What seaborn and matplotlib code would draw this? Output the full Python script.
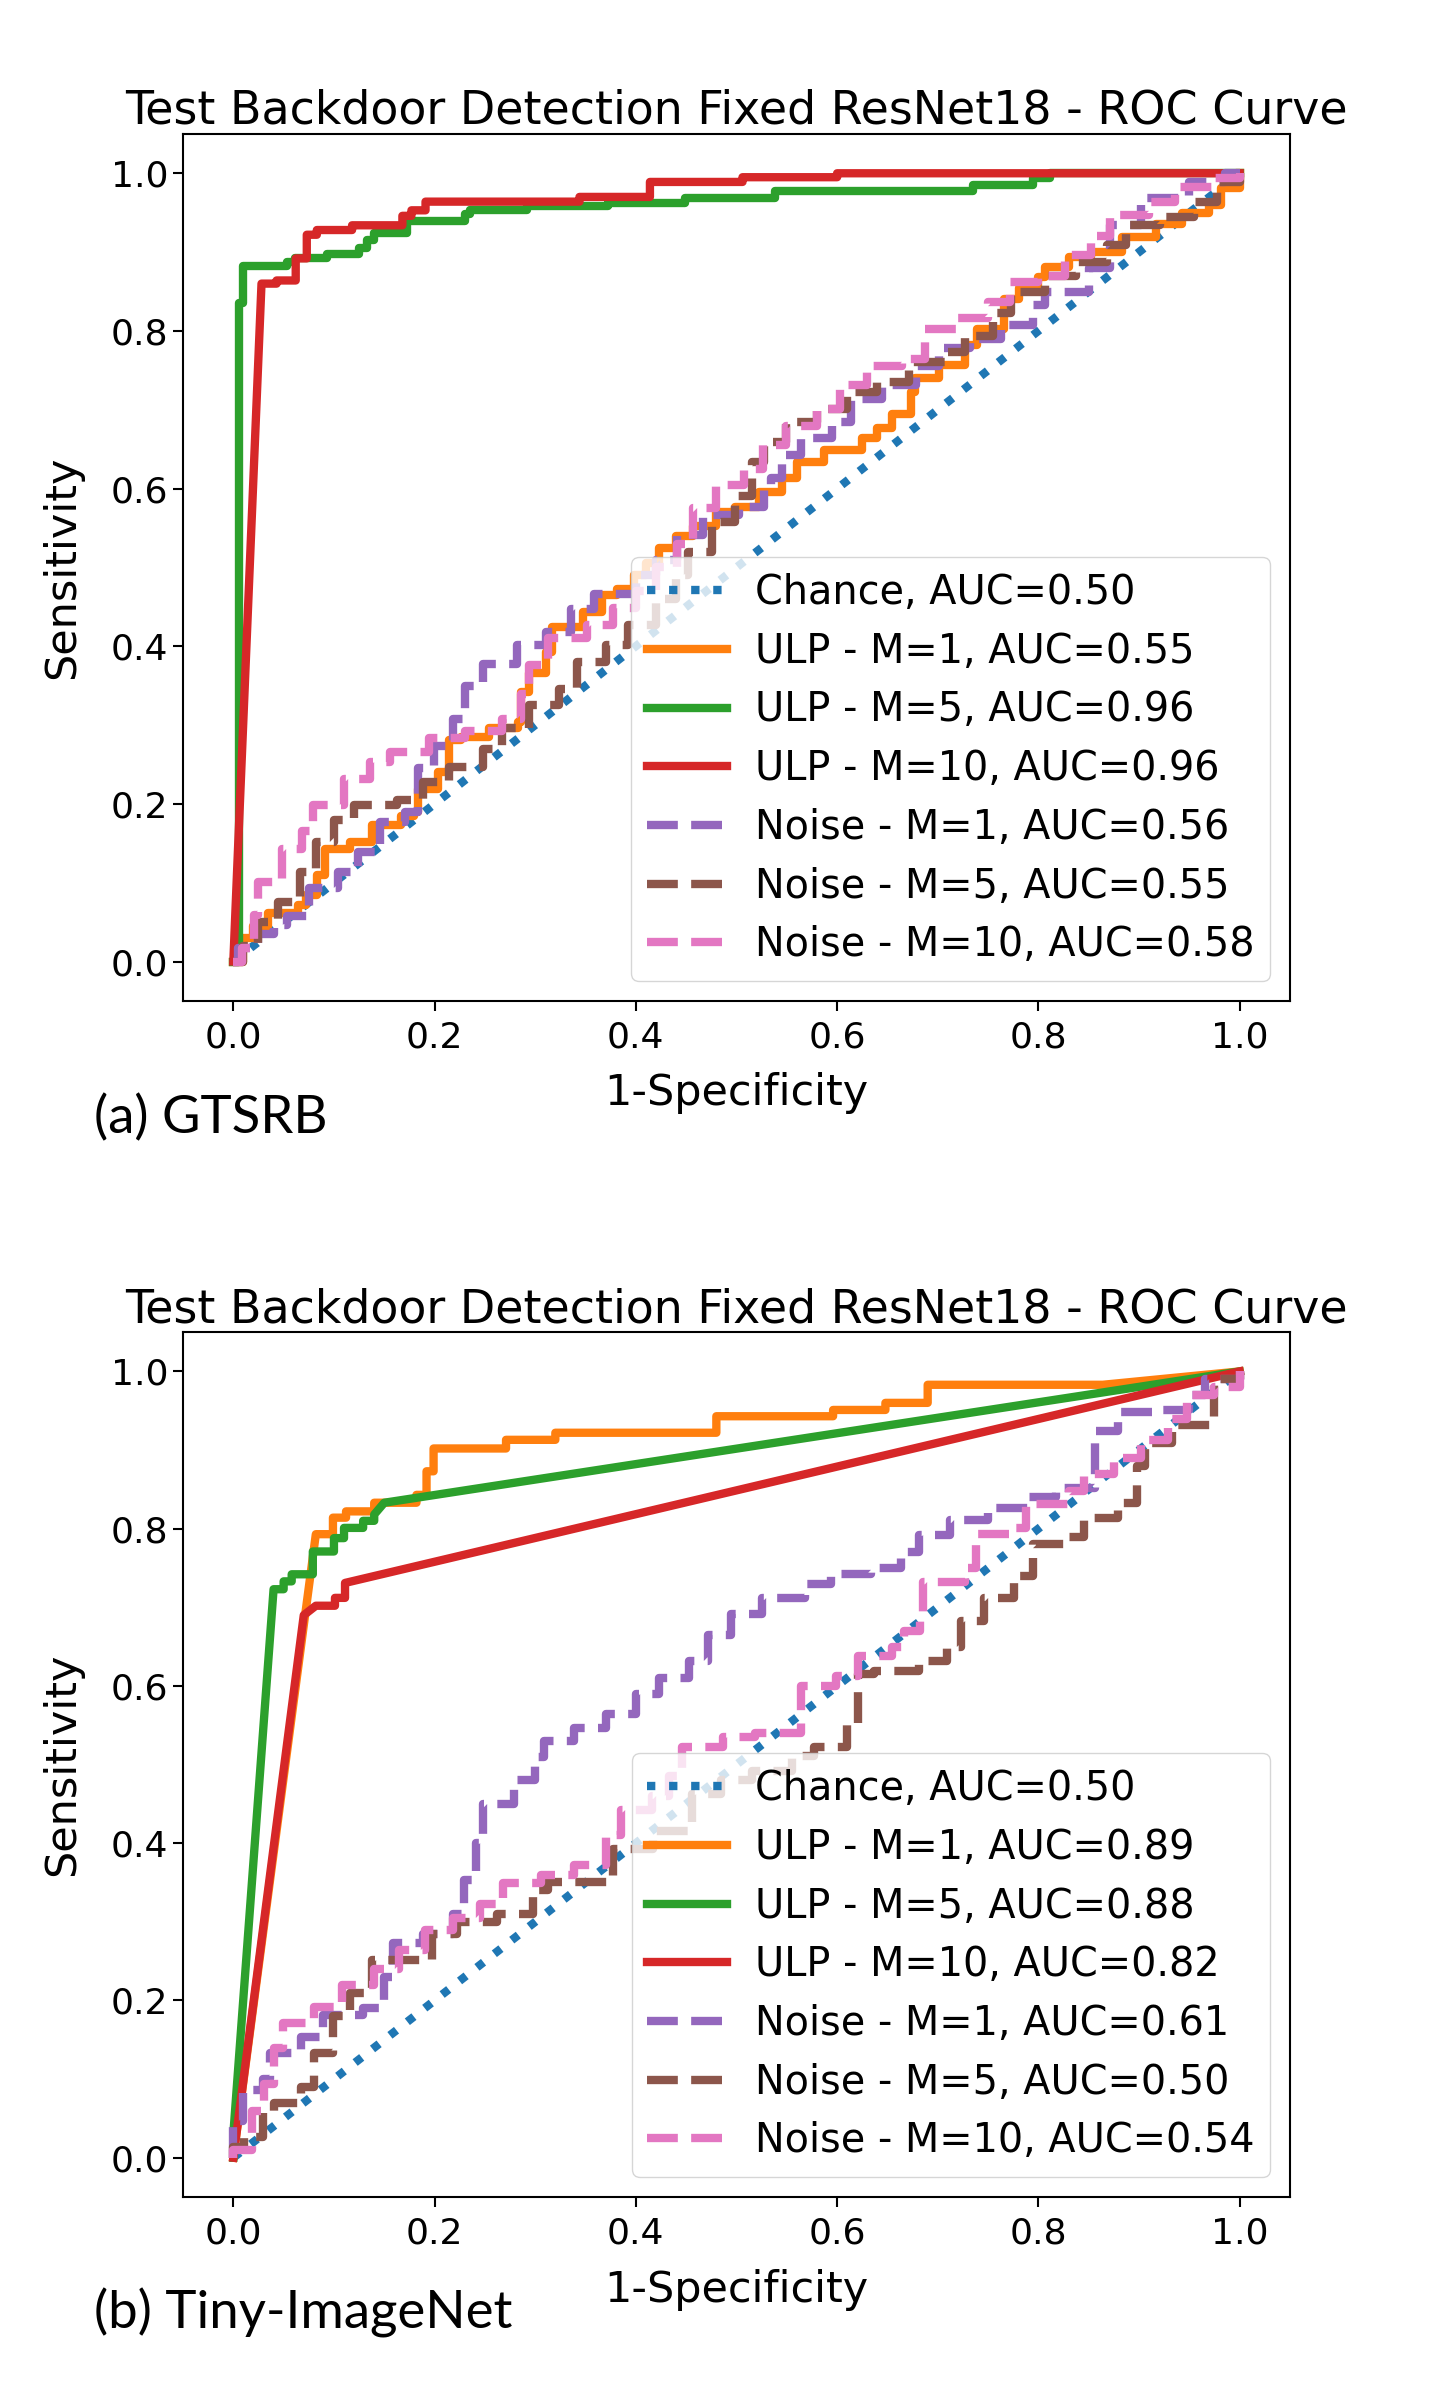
import matplotlib
matplotlib.use("Agg")
import matplotlib.pyplot as plt
import seaborn as sns
import pandas as pd

# ---------------- data: (a) GTSRB ----------------
chance_fpr = [0.0, 1.0]
chance_tpr = [0.0, 1.0]

a_ulp1_fpr = [0.0, 0.010, 0.020, 0.034, 0.064, 0.072, 0.083, 0.091, 0.116, 0.138, 0.167, 0.180, 0.184, 0.203,
              0.214, 0.226, 0.254, 0.283, 0.286, 0.294, 0.311, 0.317, 0.347, 0.366, 0.381, 0.398, 0.410, 0.423,
              0.440, 0.457, 0.480, 0.499, 0.522, 0.545, 0.560, 0.587, 0.625, 0.640, 0.655, 0.673, 0.677, 0.701,
              0.727, 0.739, 0.766, 0.781, 0.800, 0.807, 0.830, 0.852, 0.883, 0.917, 0.943, 0.970, 0.981, 1.0]
a_ulp1_tpr = [0.0, 0.030, 0.045, 0.061, 0.072, 0.085, 0.110, 0.143, 0.152, 0.173, 0.185, 0.190, 0.219, 0.241,
              0.281, 0.285, 0.296, 0.304, 0.342, 0.366, 0.393, 0.425, 0.444, 0.465, 0.473, 0.490, 0.505, 0.524,
              0.540, 0.552, 0.570, 0.577, 0.596, 0.613, 0.634, 0.649, 0.664, 0.677, 0.694, 0.723, 0.740, 0.757,
              0.782, 0.803, 0.841, 0.854, 0.868, 0.881, 0.894, 0.900, 0.919, 0.936, 0.949, 0.960, 0.981, 1.0]

a_ulp5_fpr = [0.0, 0.006, 0.006, 0.010, 0.010, 0.053, 0.053, 0.061, 0.061, 0.093, 0.093, 0.125, 0.125, 0.133,
              0.133, 0.140, 0.140, 0.173, 0.173, 0.230, 0.230, 0.235, 0.235, 0.292, 0.292, 0.372, 0.372, 0.449,
              0.449, 0.538, 0.538, 0.735, 0.735, 0.795, 0.795, 0.812, 0.812, 1.0]
a_ulp5_tpr = [0.0, 0.0, 0.835, 0.835, 0.882, 0.882, 0.888, 0.888, 0.892, 0.892, 0.898, 0.898, 0.905, 0.905,
              0.915, 0.915, 0.924, 0.924, 0.939, 0.939, 0.948, 0.948, 0.953, 0.953, 0.958, 0.958, 0.962, 0.962,
              0.968, 0.968, 0.977, 0.977, 0.985, 0.985, 0.994, 0.994, 1.0, 1.0]

a_ulp10_fpr = [0.0, 0.028, 0.043, 0.043, 0.062, 0.062, 0.073, 0.073, 0.083, 0.083, 0.118, 0.118, 0.168, 0.168,
               0.177, 0.177, 0.191, 0.191, 0.344, 0.344, 0.414, 0.414, 0.506, 0.506, 0.600, 0.600, 1.0]
a_ulp10_tpr = [0.0, 0.860, 0.860, 0.864, 0.864, 0.892, 0.892, 0.922, 0.922, 0.928, 0.928, 0.934, 0.934, 0.946,
               0.946, 0.953, 0.953, 0.964, 0.964, 0.970, 0.970, 0.989, 0.989, 0.995, 0.995, 1.0, 1.0]

a_noise1_fpr = [0.0, 0.005, 0.025, 0.040, 0.053, 0.075, 0.104, 0.124, 0.146, 0.171, 0.184, 0.199, 0.218, 0.230,
                0.248, 0.282, 0.311, 0.336, 0.358, 0.400, 0.420, 0.441, 0.467, 0.503, 0.527, 0.534, 0.545, 0.564,
                0.595, 0.614, 0.645, 0.678, 0.701, 0.732, 0.763, 0.795, 0.807, 0.850, 0.871, 0.902, 0.950, 0.985, 1.0]
a_noise1_tpr = [0.0, 0.017, 0.035, 0.046, 0.058, 0.093, 0.114, 0.139, 0.177, 0.190, 0.245, 0.274, 0.308, 0.350,
                0.378, 0.401, 0.418, 0.447, 0.466, 0.490, 0.510, 0.541, 0.567, 0.577, 0.600, 0.613, 0.642, 0.664,
                0.685, 0.714, 0.731, 0.755, 0.778, 0.790, 0.807, 0.833, 0.850, 0.880, 0.934, 0.968, 0.989, 1.0, 1.0]

a_noise5_fpr = [0.0, 0.010, 0.025, 0.044, 0.066, 0.082, 0.100, 0.120, 0.163, 0.188, 0.214, 0.248, 0.267, 0.294,
                0.324, 0.342, 0.370, 0.392, 0.420, 0.440, 0.452, 0.476, 0.499, 0.515, 0.527, 0.549, 0.580, 0.610,
                0.640, 0.671, 0.709, 0.727, 0.755, 0.773, 0.807, 0.837, 0.868, 0.887, 0.921, 0.955, 0.978, 1.0]
a_noise5_tpr = [0.0, 0.020, 0.050, 0.075, 0.114, 0.152, 0.180, 0.198, 0.205, 0.228, 0.247, 0.270, 0.296, 0.325,
                0.346, 0.380, 0.401, 0.427, 0.460, 0.490, 0.520, 0.557, 0.590, 0.634, 0.659, 0.684, 0.701, 0.722,
                0.735, 0.760, 0.773, 0.794, 0.823, 0.849, 0.870, 0.888, 0.909, 0.934, 0.944, 0.964, 0.989, 1.0]

a_noise10_fpr = [0.0, 0.009, 0.021, 0.025, 0.048, 0.068, 0.079, 0.110, 0.136, 0.156, 0.194, 0.230, 0.267, 0.286,
                 0.294, 0.313, 0.351, 0.377, 0.400, 0.420, 0.441, 0.457, 0.480, 0.507, 0.526, 0.549, 0.580, 0.603,
                 0.630, 0.664, 0.687, 0.718, 0.750, 0.772, 0.800, 0.826, 0.852, 0.871, 0.910, 0.936, 0.973, 1.0]
a_noise10_tpr = [0.0, 0.017, 0.059, 0.101, 0.143, 0.165, 0.198, 0.232, 0.253, 0.266, 0.283, 0.293, 0.308, 0.340,
                 0.376, 0.410, 0.427, 0.448, 0.470, 0.500, 0.530, 0.575, 0.604, 0.625, 0.655, 0.680, 0.701, 0.731,
                 0.756, 0.765, 0.803, 0.816, 0.837, 0.862, 0.870, 0.896, 0.921, 0.947, 0.964, 0.983, 0.994, 1.0]

# ---------------- data: (b) Tiny-ImageNet ----------------
b_ulp1_fpr = [0.0, 0.082, 0.099, 0.099, 0.112, 0.112, 0.140, 0.140, 0.182, 0.182, 0.192, 0.192, 0.199, 0.199,
              0.271, 0.271, 0.320, 0.320, 0.480, 0.480, 0.596, 0.596, 0.648, 0.648, 0.690, 0.690, 0.864, 1.0]
b_ulp1_tpr = [0.0, 0.793, 0.793, 0.814, 0.814, 0.822, 0.822, 0.833, 0.833, 0.843, 0.843, 0.873, 0.873, 0.902,
              0.902, 0.913, 0.913, 0.922, 0.922, 0.943, 0.943, 0.951, 0.951, 0.960, 0.960, 0.983, 0.983, 1.0]

b_ulp5_fpr = [0.0, 0.0, 0.040, 0.050, 0.050, 0.058, 0.058, 0.079, 0.079, 0.100, 0.100, 0.110, 0.110, 0.129,
              0.129, 0.140, 0.140, 0.150, 1.0]
b_ulp5_tpr = [0.0, 0.030, 0.723, 0.723, 0.733, 0.733, 0.742, 0.742, 0.771, 0.771, 0.788, 0.788, 0.801, 0.801,
              0.810, 0.810, 0.818, 0.833, 1.0]

b_ulp10_fpr = [0.0, 0.070, 0.082, 0.101, 0.101, 0.111, 0.111, 1.0]
b_ulp10_tpr = [0.0, 0.690, 0.702, 0.702, 0.712, 0.712, 0.731, 1.0]

b_noise1_fpr = [0.0, 0.0, 0.010, 0.029, 0.036, 0.067, 0.089, 0.129, 0.150, 0.159, 0.188, 0.218, 0.229, 0.241,
                0.248, 0.279, 0.300, 0.309, 0.339, 0.370, 0.400, 0.423, 0.453, 0.472, 0.495, 0.525, 0.568, 0.594,
                0.634, 0.663, 0.681, 0.712, 0.750, 0.790, 0.818, 0.856, 0.879, 0.917, 0.950, 0.966, 1.0]
b_noise1_tpr = [0.0, 0.047, 0.086, 0.100, 0.133, 0.154, 0.181, 0.190, 0.230, 0.273, 0.285, 0.310, 0.353, 0.400,
                0.450, 0.480, 0.510, 0.530, 0.547, 0.564, 0.590, 0.610, 0.632, 0.665, 0.691, 0.712, 0.730, 0.742,
                0.750, 0.770, 0.792, 0.811, 0.826, 0.840, 0.852, 0.924, 0.949, 0.951, 0.970, 0.990, 1.0]

b_noise5_fpr = [0.0, 0.0, 0.011, 0.029, 0.040, 0.067, 0.080, 0.099, 0.116, 0.138, 0.197, 0.222, 0.262, 0.298,
                0.313, 0.377, 0.417, 0.456, 0.485, 0.515, 0.555, 0.577, 0.610, 0.621, 0.637, 0.681, 0.709, 0.723,
                0.746, 0.776, 0.795, 0.825, 0.845, 0.879, 0.898, 0.906, 0.933, 0.975, 1.0]
b_noise5_tpr = [0.0, 0.013, 0.026, 0.058, 0.069, 0.090, 0.133, 0.180, 0.209, 0.251, 0.285, 0.300, 0.310, 0.340,
                0.351, 0.393, 0.416, 0.463, 0.480, 0.492, 0.511, 0.522, 0.550, 0.615, 0.619, 0.632, 0.650, 0.683,
                0.712, 0.740, 0.780, 0.790, 0.814, 0.833, 0.880, 0.909, 0.932, 0.990, 1.0]

b_noise10_fpr = [0.0, 0.0, 0.019, 0.030, 0.040, 0.049, 0.080, 0.108, 0.140, 0.165, 0.190, 0.218, 0.245, 0.268,
                 0.306, 0.339, 0.370, 0.385, 0.416, 0.433, 0.446, 0.487, 0.518, 0.564, 0.599, 0.621, 0.655, 0.666,
                 0.682, 0.685, 0.727, 0.738, 0.776, 0.788, 0.830, 0.845, 0.875, 0.902, 0.929, 0.948, 0.975, 1.0]
b_noise10_tpr = [0.0, 0.010, 0.060, 0.094, 0.140, 0.171, 0.192, 0.220, 0.240, 0.264, 0.290, 0.305, 0.323, 0.350,
                 0.359, 0.372, 0.410, 0.442, 0.460, 0.486, 0.522, 0.535, 0.540, 0.600, 0.613, 0.638, 0.650, 0.670,
                 0.690, 0.732, 0.750, 0.793, 0.801, 0.831, 0.848, 0.870, 0.890, 0.913, 0.940, 0.970, 0.980, 1.0]

a_auc = ["0.50", "0.55", "0.96", "0.96", "0.56", "0.55", "0.58"]
b_auc = ["0.50", "0.89", "0.88", "0.82", "0.61", "0.50", "0.54"]
names = ["Chance", "ULP - M=1", "ULP - M=5", "ULP - M=10", "Noise - M=1", "Noise - M=5", "Noise - M=10"]

title_text = "Test Backdoor Detection Fixed ResNet18 - ROC Curve"
captions = ["(a) GTSRB", "(b) Tiny-ImageNet"]

# ---------------- drawing ----------------
plt.rcParams["font.family"] = ["DejaVu Sans"]
plt.rcParams["axes.linewidth"] = 1.5
plt.rcParams["xtick.major.size"] = 7
plt.rcParams["ytick.major.size"] = 7
plt.rcParams["xtick.major.width"] = 1.5
plt.rcParams["ytick.major.width"] = 1.5
plt.rcParams["xtick.major.pad"] = 7

colors = sns.color_palette("tab10")
styles = [":", "-", "-", "-", "--", "--", "--"]

fig = plt.figure(figsize=(14.32, 23.86), dpi=100)
ax_a = fig.add_axes([0.1278, 0.5805, 0.773, 0.3634])
ax_b = fig.add_axes([0.1278, 0.0792, 0.773, 0.3625])

panels = [
    (ax_a, a_auc, [(chance_fpr, chance_tpr), (a_ulp1_fpr, a_ulp1_tpr), (a_ulp5_fpr, a_ulp5_tpr),
                   (a_ulp10_fpr, a_ulp10_tpr), (a_noise1_fpr, a_noise1_tpr), (a_noise5_fpr, a_noise5_tpr),
                   (a_noise10_fpr, a_noise10_tpr)],
     [None, "steps-post", None, None, "steps-post", "steps-post", "steps-post"]),
    (ax_b, b_auc, [(chance_fpr, chance_tpr), (b_ulp1_fpr, b_ulp1_tpr), (b_ulp5_fpr, b_ulp5_tpr),
                   (b_ulp10_fpr, b_ulp10_tpr), (b_noise1_fpr, b_noise1_tpr), (b_noise5_fpr, b_noise5_tpr),
                   (b_noise10_fpr, b_noise10_tpr)],
     [None, None, None, None, "steps-post", "steps-post", "steps-post"]),
]

for ax, aucs, series, dstyles in panels:
    for i, ((fx, ty), auc) in enumerate(zip(series, aucs)):
        df = pd.DataFrame({"fpr": fx, "tpr": ty})
        kw = {}
        if dstyles[i]:
            kw["drawstyle"] = dstyles[i]
        sns.lineplot(data=df, x="fpr", y="tpr", ax=ax, estimator=None, sort=False,
                     color=colors[i], linestyle=styles[i], linewidth=6,
                     label=f"{names[i]}, AUC={auc}", **kw)
    ax.set_xlim(-0.05, 1.05)
    ax.set_ylim(-0.05, 1.05)
    ax.set_xticks([0.0, 0.2, 0.4, 0.6, 0.8, 1.0])
    ax.set_yticks([0.0, 0.2, 0.4, 0.6, 0.8, 1.0])
    ax.tick_params(labelsize=26)
    ax.set_xlabel("1-Specificity", fontsize=31, labelpad=13)
    ax.set_ylabel("Sensitivity", fontsize=31, labelpad=20)
    ax.set_title(title_text, fontsize=33)
    ax.legend(loc="lower right", fontsize=28.6, labelspacing=0.47, handlelength=2.0,
              handletextpad=0.7, borderpad=0.4)

fig.text(94 / 1432, 1 - 1118 / 2386, captions[0], fontsize=38, family=["Lato", "DejaVu Sans"], va="center", ha="left")
fig.text(94 / 1432, 1 - 2313 / 2386, captions[1], fontsize=38, family=["Lato", "DejaVu Sans"], va="center", ha="left")

fig.savefig("out.png", dpi=100)
